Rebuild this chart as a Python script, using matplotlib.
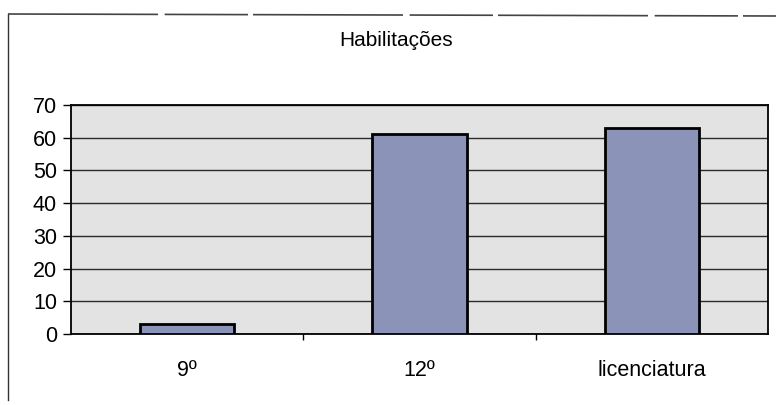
import matplotlib
matplotlib.use("Agg")
import matplotlib.pyplot as plt
from matplotlib.lines import Line2D

categories = ["9º", "12º", "licenciatura"]
values = [3, 61, 63]
y_ticks = [0, 10, 20, 30, 40, 50, 60, 70]
title = "Habilitações"

plt.rcParams["font.family"] = ["Liberation Sans", "DejaVu Sans"]

W, H = 776, 405
fig = plt.figure(figsize=(W / 100, H / 100), dpi=100)
fig.patch.set_facecolor("white")

ax = fig.add_axes([71 / W, 1 - 334 / H, (768 - 71) / W, (334 - 105) / H])
ax.set_facecolor("#e3e3e3")

x = list(range(len(categories)))
ax.bar(x, values, width=0.405, color="#8b93b9", edgecolor="black",
       linewidth=2, zorder=3)

ax.set_xlim(-0.5, len(categories) - 0.5)
ax.set_ylim(0, 70)
ax.set_yticks(y_ticks)
ax.set_yticklabels([str(v) for v in y_ticks], fontsize=15.5)
ax.yaxis.grid(True, color="#2a2a2a", linewidth=1.0, zorder=1)
ax.set_axisbelow(True)

# category labels at centres, tick marks at category boundaries
ax.set_xticks(x)
ax.set_xticklabels(categories, fontsize=15.5)
ax.tick_params(axis="x", length=0, pad=19)
ax.set_xticks([0.5, 1.5], minor=True)
ax.tick_params(axis="x", which="minor", length=4, width=1, direction="out",
               color="black")
ax.tick_params(axis="y", length=6, width=1, direction="out", pad=4)

for side in ["top", "bottom", "left", "right"]:
    ax.spines[side].set_color("black")
    ax.spines[side].set_linewidth(1.3)

fig.text(396 / W, 1 - 41 / H, title, ha="center", va="center", fontsize=15)

# outer chart border
fig.add_artist(Line2D([8 / W, 8 / W], [1 - 14 / H, 1 - 400 / H],
                      transform=fig.transFigure, color="#333333", lw=1))
fig.add_artist(Line2D([8 / W, 1.0], [1 - 14 / H, 1 - 16 / H],
                      transform=fig.transFigure, color="#444444", lw=1.2,
                      linestyle=(0, (90, 4, 50, 3))))

fig.savefig("out.png", dpi=100, facecolor="white")
